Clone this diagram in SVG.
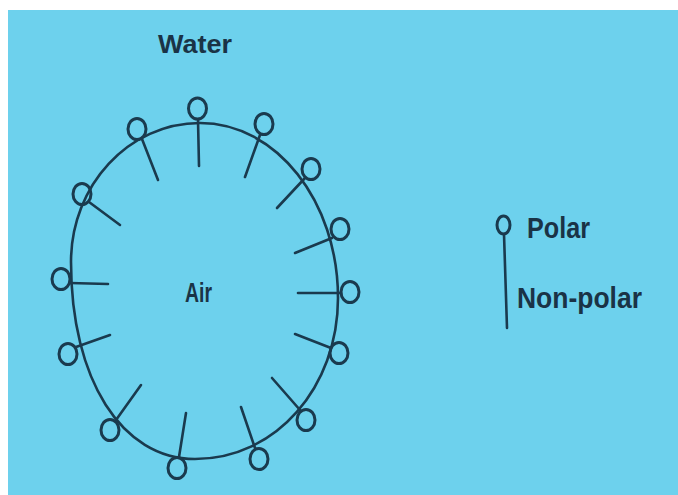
<svg xmlns="http://www.w3.org/2000/svg" width="678" height="495" viewBox="0 0 678 495">
<defs>
<style>
.bg{fill:#6dd1ed}
.ln{fill:none;stroke:#1a3a4e;stroke-width:2.6;stroke-linecap:round}
.hd{fill:none;stroke:#1a3a4e;stroke-width:3}
.tx{font-family:"Liberation Sans",Arial,sans-serif;font-weight:bold;fill:#1a3346}
</style>
</defs>
<rect x="0" y="0" width="678" height="495" fill="#ffffff"/>
<rect class="bg" x="8" y="10" width="670" height="485"/>
<g id="bubble">
<path class="ln" d="M200,123 C276,123 338,201 338,298 C338,387 276,459 195,459 C122,459 71,380 71,262 C71,185 129,123 200,123 Z"/>
</g>
<g id="molecules">
<g id="m1"><ellipse class="hd" cx="197.5" cy="108.5" rx="9" ry="10.5"/><line class="ln" x1="198" y1="120" x2="199" y2="166"/></g>
<g id="m2"><ellipse class="hd" cx="137" cy="129" rx="9" ry="10.5"/><line class="ln" x1="142" y1="139" x2="158" y2="180"/></g>
<g id="m3"><ellipse class="hd" cx="264" cy="124" rx="9" ry="10.5"/><line class="ln" x1="260" y1="135" x2="245" y2="177"/></g>
<g id="m4"><ellipse class="hd" cx="311" cy="169" rx="9" ry="10.5"/><line class="ln" x1="305" y1="178" x2="277" y2="208"/></g>
<g id="m5"><ellipse class="hd" cx="82" cy="194" rx="9" ry="10.5"/><line class="ln" x1="89" y1="202" x2="120" y2="225"/></g>
<g id="m6"><ellipse class="hd" cx="340" cy="229" rx="9" ry="10.5"/><line class="ln" x1="332" y1="238" x2="295" y2="253"/></g>
<g id="m7"><ellipse class="hd" cx="61" cy="279" rx="9" ry="10.5"/><line class="ln" x1="70" y1="283" x2="108" y2="284"/></g>
<g id="m8"><ellipse class="hd" cx="350" cy="292" rx="9" ry="10.5"/><line class="ln" x1="341" y1="293" x2="298" y2="293"/></g>
<g id="m9"><ellipse class="hd" cx="68" cy="354" rx="9" ry="10.5"/><line class="ln" x1="76" y1="347" x2="110" y2="335"/></g>
<g id="m10"><ellipse class="hd" cx="339" cy="353" rx="9" ry="10.5"/><line class="ln" x1="331" y1="348" x2="295" y2="334"/></g>
<g id="m11"><ellipse class="hd" cx="110" cy="430" rx="9" ry="10.5"/><line class="ln" x1="116" y1="420" x2="141" y2="385"/></g>
<g id="m12"><ellipse class="hd" cx="306" cy="420" rx="9" ry="10.5"/><line class="ln" x1="300" y1="410" x2="272" y2="378"/></g>
<g id="m13"><ellipse class="hd" cx="177" cy="468" rx="9" ry="10.5"/><line class="ln" x1="179" y1="457" x2="186" y2="413"/></g>
<g id="m14"><ellipse class="hd" cx="259" cy="459" rx="9" ry="10.5"/><line class="ln" x1="255" y1="448" x2="241" y2="407"/></g>
</g>
<g id="labels">
<text class="tx" x="158" y="53" font-size="26" textLength="74" lengthAdjust="spacingAndGlyphs">Water</text>
<text class="tx" x="185" y="302" font-size="28" textLength="27" lengthAdjust="spacingAndGlyphs">Air</text>
</g>
<g id="legend">
<ellipse class="hd" cx="503.5" cy="225" rx="6.5" ry="9"/>
<line class="ln" x1="504" y1="234" x2="507" y2="328"/>
<text class="tx" x="527" y="238" font-size="29" textLength="63" lengthAdjust="spacingAndGlyphs">Polar</text>
<text class="tx" x="517" y="308" font-size="29" textLength="125" lengthAdjust="spacingAndGlyphs">Non-polar</text>
</g>
</svg>
